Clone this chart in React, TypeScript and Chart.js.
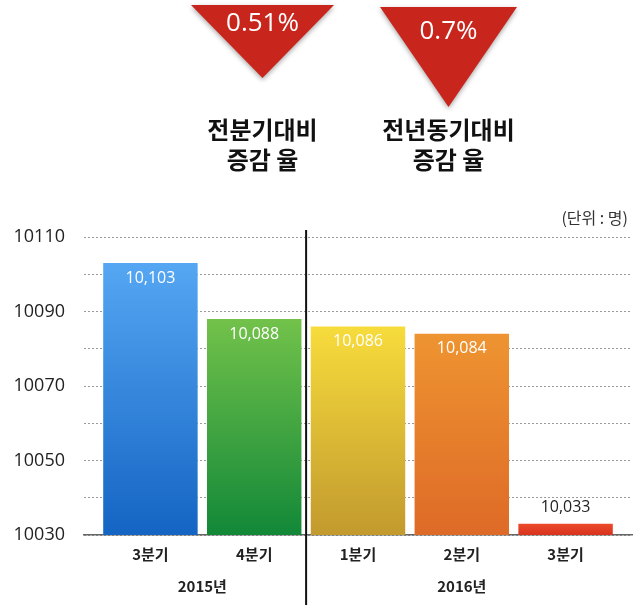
import React, { useEffect, useRef } from 'react';
import Chart from 'chart.js/auto';

// 분기별 값 (단위: 명)
const categories = ['3분기', '4분기', '1분기', '2분기', '3분기'];
const values = [10103, 10088, 10086, 10084, 10033];
const valueLabels = ['10,103', '10,088', '10,086', '10,084', '10,033'];
const years = ['2015년', '2016년'];
const yearGroups = [[0, 1], [2, 3, 4]];
const yTickLabels = ['10030', '10050', '10070', '10090', '10110'];
const changeRates = ['0.51%', '0.7%'];
const changeTitles = [['전분기대비', '증감 율'], ['전년동기대비', '증감 율']];

const topColors = ['#55a7f3', '#72c24a', '#f7dc3c', '#ee9431', '#ec4b2b'];
const bottomColors = ['#1464c3', '#128838', '#c29a2e', '#de6a27', '#d8321e'];

const FONT_KR = '"Noto Sans CJK KR", "Noto Sans", sans-serif';
const FONT_NUM = '"Open Sans", "Noto Sans", sans-serif';

const overlayPlugin = {
  id: 'overlay',
  afterDatasetsDraw(chart: any) {
    const { ctx } = chart;
    const x = chart.scales.x;
    const y = chart.scales.y;
    const meta = chart.getDatasetMeta(0);
    ctx.save();

    // value labels
    ctx.textAlign = 'center';
    ctx.textBaseline = 'middle';
    ctx.font = `16px ${FONT_NUM}`;
    meta.data.forEach((bar: any, i: number) => {
      const inside = y.bottom - bar.y > 40;
      ctx.fillStyle = inside ? '#ffffff' : '#222222';
      ctx.fillText(valueLabels[i], bar.x, inside ? bar.y + 15 : bar.y - 16);
    });

    // year divider
    const sepX = x.getPixelForValue(1.5);
    ctx.strokeStyle = '#111111';
    ctx.lineWidth = 2;
    ctx.beginPath();
    ctx.moveTo(sepX, y.top - 7);
    ctx.lineTo(sepX, chart.height - 2);
    ctx.stroke();

    // year labels
    ctx.font = `bold 15px ${FONT_KR}`;
    ctx.fillStyle = '#222222';
    yearGroups.forEach((g, k) => {
      const mid = g.reduce((a, b) => a + b, 0) / g.length;
      ctx.fillText(years[k], x.getPixelForValue(mid), 586);
    });

    // unit
    ctx.font = `16px ${FONT_KR}`;
    ctx.textAlign = 'right';
    ctx.fillStyle = '#333333';
    ctx.fillText('(단위 : 명)', 628, 218);

    // header triangles
    const tris = [
      { l: 191, r: 334, top: 5, apex: 78, ty: 24 },
      { l: 380, r: 517, top: 7, apex: 107, ty: 32 },
    ];
    tris.forEach((t, k) => {
      const cx = (t.l + t.r) / 2;
      ctx.save();
      ctx.shadowColor = 'rgba(0,0,0,0.35)';
      ctx.shadowBlur = 5;
      ctx.shadowOffsetY = 2;
      ctx.fillStyle = '#c8261d';
      ctx.beginPath();
      ctx.moveTo(t.l, t.top);
      ctx.lineTo(t.r, t.top);
      ctx.lineTo(cx, t.apex);
      ctx.closePath();
      ctx.fill();
      ctx.restore();

      ctx.textAlign = 'center';
      ctx.fillStyle = '#ffffff';
      ctx.font = `26px ${FONT_NUM}`;
      ctx.fillText(changeRates[k], cx, t.ty);

      ctx.fillStyle = '#111111';
      ctx.font = `bold 24px ${FONT_KR}`;
      ctx.fillText(changeTitles[k][0], cx, 130);
      ctx.fillText(changeTitles[k][1], cx, 160);
    });

    ctx.restore();
  },
};

const App: React.FC = () => {
  const canvasRef = useRef<HTMLCanvasElement>(null);
  const chartRef = useRef<Chart | null>(null);

  useEffect(() => {
    if (!canvasRef.current) return;
    if (chartRef.current) chartRef.current.destroy();

    chartRef.current = new Chart(canvasRef.current, {
      type: 'bar',
      data: {
        datasets: [
          {
            data: values.map((v, i) => ({ x: i, y: v })),
            categoryPercentage: 1,
            barPercentage: 0.91,
            borderWidth: 0,
            backgroundColor: (c: any) => {
              const i = c.dataIndex;
              const chart = c.chart;
              if (i === undefined || !chart.chartArea || !chart.scales.y) return topColors[i ?? 0];
              const yTop = chart.scales.y.getPixelForValue(values[i]);
              const g = chart.ctx.createLinearGradient(0, yTop, 0, chart.chartArea.bottom);
              g.addColorStop(0, topColors[i]);
              g.addColorStop(1, bottomColors[i]);
              return g;
            },
          },
        ],
      },
      options: {
        responsive: false,
        animation: false,
        events: [],
        layout: { padding: { top: 237, right: 8, left: 0, bottom: 0 } },
        plugins: {
          legend: { display: false },
          tooltip: { enabled: false },
        },
        scales: {
          x: {
            type: 'linear',
            offset: false,
            min: -0.64,
            max: 4.64,
            grid: { display: false, drawTicks: false },
            border: { display: true, color: '#666666', width: 1.5 },
            ticks: {
              stepSize: 1,
              includeBounds: false,
              autoSkip: false,
              maxRotation: 0,
              padding: 10,
              color: '#222222',
              font: { family: FONT_KR, size: 15, weight: 'bold' },
              callback: (v: any) => (Number.isInteger(v) ? categories[v] ?? '' : ''),
            },
            afterFit: (s: any) => {
              s.height = 72;
            },
          },
          y: {
            min: 10030,
            max: 10110,
            grid: {
              color: '#9a9a9a',
              lineWidth: 1,
              drawTicks: false,
            },
            border: { display: false, dash: [2, 2] },
            ticks: {
              stepSize: 10,
              padding: 19,
              color: '#222222',
              font: { family: FONT_NUM, size: 18 },
              callback: (v: any) => (yTickLabels.includes(String(v)) ? String(v) : ''),
            },
            afterFit: (s: any) => {
              s.width = 84;
            },
          },
        },
      },
      plugins: [overlayPlugin],
    } as any);

    return () => {
      if (chartRef.current) {
        chartRef.current.destroy();
        chartRef.current = null;
      }
    };
  }, []);

  return (
    <div style={{ position: 'fixed', left: 0, top: 0, width: 640, height: 607, background: '#ffffff' }}>
      <canvas ref={canvasRef} width={640} height={607} />
    </div>
  );
};

export default App;
